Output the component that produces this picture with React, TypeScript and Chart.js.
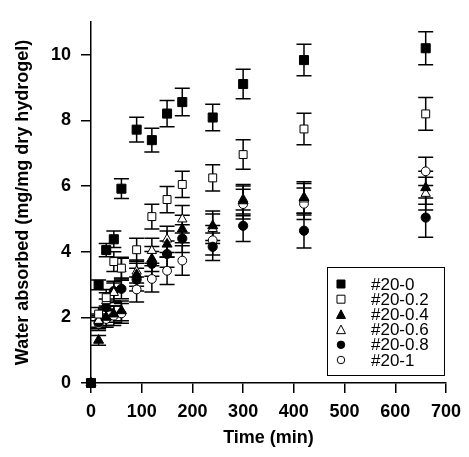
import { useEffect, useRef } from "react";
import { Chart, registerables } from "chart.js";

Chart.register(...registerables);

// ---- data ----
const times = [0, 15, 30, 45, 60, 90, 120, 150, 180, 240, 300, 420, 660];
const seriesLabels = ["#20-0", "#20-0.2", "#20-0.4", "#20-0.6", "#20-0.8", "#20-1"];

const s00 = [0, 2.99, 4.05, 4.38, 5.92, 7.72, 7.4, 8.21, 8.56, 8.09, 9.11, 9.84, 10.2];
const e00 = [0, 0.15, 0.2, 0.25, 0.3, 0.38, 0.36, 0.4, 0.42, 0.4, 0.45, 0.48, 0.5];

const s02 = [0, 2.1, 2.6, 3.7, 3.5, 4.06, 5.07, 5.59, 6.05, 6.25, 6.96, 7.74, 8.2];
const e02 = [0, 0.2, 0.25, 0.3, 0.3, 0.35, 0.38, 0.4, 0.4, 0.4, 0.45, 0.48, 0.5];

const s04 = [0, 1.3, 2.0, 2.1, 2.2, 3.3, 3.78, 4.23, 4.69, 4.79, 5.55, 5.65, 5.95];
const e04 = [0, 0.15, 0.25, 0.25, 0.3, 0.35, 0.38, 0.4, 0.42, 0.45, 0.45, 0.48, 0.5];

const s06 = [0, 1.9, 2.5, 2.75, 3.48, 3.4, 4.03, 4.38, 4.99, 4.7, 5.6, 5.6, 5.77];
const e06 = [0, 0.2, 0.25, 0.3, 0.35, 0.35, 0.38, 0.4, 0.42, 0.45, 0.45, 0.48, 0.5];

const s08 = [0, 1.85, 2.31, 2.8, 2.87, 3.15, 3.63, 3.93, 4.4, 4.15, 4.79, 4.64, 5.04];
const e08 = [0, 0.2, 0.25, 0.3, 0.3, 0.35, 0.38, 0.4, 0.42, 0.42, 0.48, 0.53, 0.6];

const s10 = [0, 1.8, 1.95, 2.05, 2.12, 2.85, 3.17, 3.42, 3.73, 4.35, 5.45, 5.46, 6.45];
const e10 = [0, 0.2, 0.25, 0.3, 0.3, 0.38, 0.4, 0.42, 0.45, 0.45, 0.45, 0.48, 0.43];

const xTicks = [0, 100, 200, 300, 400, 500, 600, 700];
const yTicks = [0, 2, 4, 6, 8, 10];

const FONT = "'Liberation Sans', Arial, sans-serif";

const styles = [
  { shape: "rect", filled: true, r: 6.4 },
  { shape: "rect", filled: false, r: 5.6 },
  { shape: "triangle", filled: true, r: 5.8 },
  { shape: "triangle", filled: false, r: 5.4 },
  { shape: "circle", filled: true, r: 4.6 },
  { shape: "circle", filled: false, r: 4.4 },
];

const values = [s00, s02, s04, s06, s08, s10];
const errors = [e00, e02, e04, e06, e08, e10];

const errorBarPlugin = {
  id: "errorBars",
  beforeDatasetsDraw(chart: any) {
    const { ctx } = chart;
    const xs = chart.scales.x;
    const ys = chart.scales.y;
    ctx.save();
    ctx.strokeStyle = "#000";
    ctx.lineWidth = 1.5;
    chart.data.datasets.forEach((ds: any) => {
      ds.data.forEach((p: any, j: number) => {
        const e = ds.errors[j];
        if (!e) return;
        const px = xs.getPixelForValue(p.x);
        const t = ys.getPixelForValue(p.y + e);
        const b = ys.getPixelForValue(p.y - e);
        ctx.beginPath();
        ctx.moveTo(px, t);
        ctx.lineTo(px, b);
        ctx.moveTo(px - 7.5, t);
        ctx.lineTo(px + 7.5, t);
        ctx.moveTo(px - 7.5, b);
        ctx.lineTo(px + 7.5, b);
        ctx.stroke();
      });
    });
    ctx.restore();
  },
};

function drawMarker(ctx: CanvasRenderingContext2D, shape: string, filled: boolean, x: number, y: number, size: number) {
  ctx.beginPath();
  if (shape === "rect") {
    ctx.rect(x - size / 2, y - size / 2, size, size);
  } else if (shape === "triangle") {
    const h = size * 0.9;
    ctx.moveTo(x, y - h / 2 - 0.5);
    ctx.lineTo(x + size / 2, y + h / 2);
    ctx.lineTo(x - size / 2, y + h / 2);
    ctx.closePath();
  } else {
    ctx.arc(x, y, size / 2, 0, Math.PI * 2);
  }
  ctx.fillStyle = filled ? "#000" : "#fff";
  ctx.fill();
  ctx.lineWidth = 1;
  ctx.strokeStyle = "#000";
  ctx.stroke();
}

const legendPlugin = {
  id: "boxLegend",
  afterDraw(chart: any) {
    const { ctx, chartArea } = chart;
    const left = chartArea.right - 119;
    const top = chartArea.bottom - 116;
    const w = 117;
    const h = 108;
    ctx.save();
    ctx.strokeStyle = "#000";
    ctx.lineWidth = 1;
    ctx.strokeRect(left + 0.5, top + 0.5, w, h);
    ctx.font = `17px ${FONT}`;
    ctx.textBaseline = "middle";
    ctx.textAlign = "left";
    seriesLabels.forEach((lab, i) => {
      const cy = top + 17 + i * 15.2;
      const st = styles[i];
      drawMarker(ctx, st.shape, st.filled, left + 14, cy, st.shape === "rect" ? 8 : st.shape === "triangle" ? 9 : 7.5);
      ctx.fillStyle = "#000";
      ctx.fillText(lab, left + 44, cy + 1);
    });
    ctx.restore();
  },
};

export default function App() {
  const ref = useRef<HTMLCanvasElement | null>(null);

  useEffect(() => {
    if (!ref.current) return;
    const datasets = seriesLabels.map((lab, i) => ({
      label: lab,
      data: times.map((t, j) => ({ x: t, y: values[i][j] })),
      errors: errors[i],
      pointStyle: styles[i].shape,
      pointRadius: styles[i].r,
      pointHoverRadius: styles[i].r,
      pointBackgroundColor: styles[i].filled ? "#000" : "#fff",
      pointBorderColor: "#000",
      pointBorderWidth: 1,
      showLine: false,
      clip: false,
    }));

    const chart = new Chart(ref.current, {
      type: "scatter",
      data: { datasets } as any,
      plugins: [errorBarPlugin, legendPlugin],
      options: {
        animation: false,
        responsive: false,
        maintainAspectRatio: false,
        layout: { padding: { left: 0, right: 19, top: 22, bottom: 0 } },
        plugins: { legend: { display: false }, tooltip: { enabled: false } },
        scales: {
          x: {
            type: "linear",
            min: 0,
            max: 700,
            afterBuildTicks: (s: any) => {
              s.ticks = xTicks.map((v) => ({ value: v }));
            },
            afterFit: (s: any) => {
              s.height = 74;
            },
            grid: { drawOnChartArea: false, drawTicks: true, tickLength: 10, color: "#000", lineWidth: 1.5 },
            border: { display: true, color: "#000", width: 1.5 },
            ticks: { color: "#000", padding: 8, font: { family: FONT, size: 18, weight: "bold" }, maxRotation: 0 },
            title: {
              display: true,
              text: "Time (min)",
              color: "#000",
              font: { family: FONT, size: 18, weight: "bold" },
              padding: { top: 0, bottom: 8 },
            },
          },
          y: {
            type: "linear",
            min: 0,
            max: 11,
            afterBuildTicks: (s: any) => {
              s.ticks = yTicks.map((v) => ({ value: v }));
            },
            afterFit: (s: any) => {
              s.width = 91;
            },
            grid: { drawOnChartArea: false, drawTicks: true, tickLength: 10, color: "#000", lineWidth: 1.5 },
            border: { display: true, color: "#000", width: 1.5 },
            ticks: { color: "#000", padding: 10, font: { family: FONT, size: 18, weight: "bold" } },
            title: {
              display: true,
              text: "Water absorbed (mg/mg dry hydrogel)",
              color: "#000",
              font: { family: FONT, size: 18, weight: "bold" },
              padding: { top: 12, bottom: 0 },
            },
          },
        },
      } as any,
    });
    return () => chart.destroy();
  }, []);

  return (
    <div style={{ position: "fixed", left: 0, top: 0, width: 469, height: 457, background: "#fff" }}>
      <canvas ref={ref} width={469} height={457} style={{ width: 469, height: 457, display: "block" }} />
    </div>
  );
}
